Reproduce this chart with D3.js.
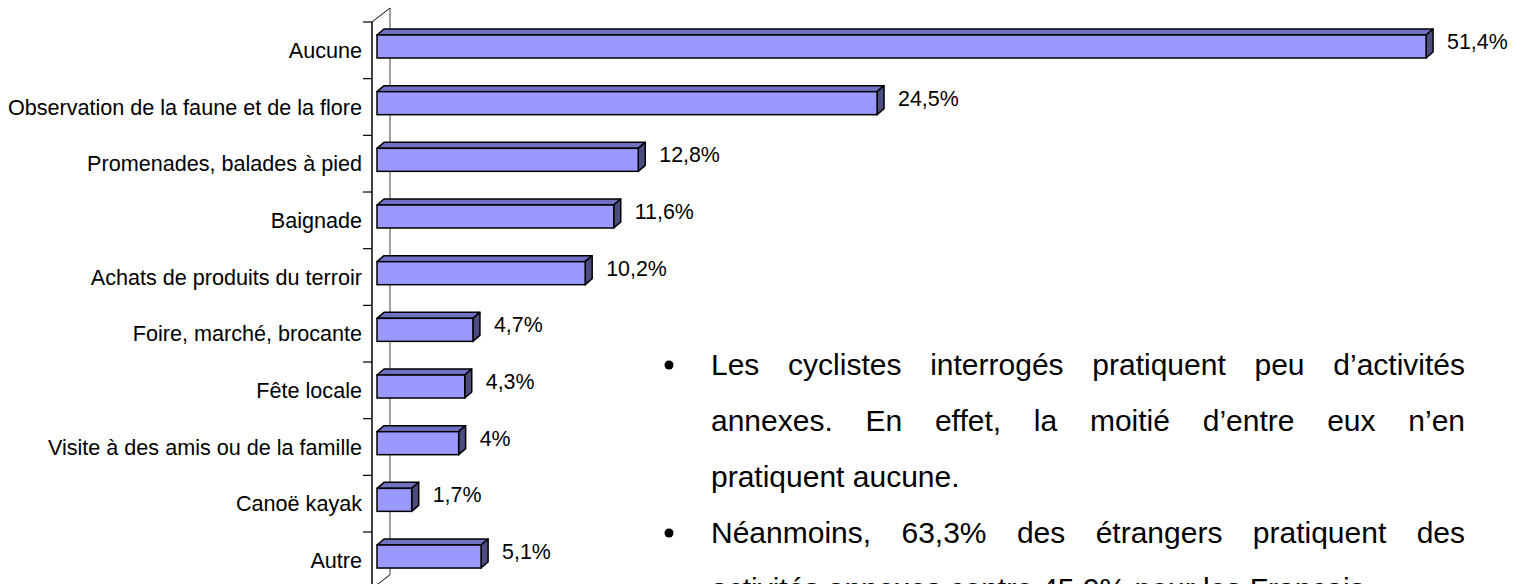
<!DOCTYPE html>
<html>
<head>
<meta charset="utf-8">
<script src="https://cdn.jsdelivr.net/npm/d3@7"></script>
<style>
  html, body { margin: 0; padding: 0; background: #fff; overflow: hidden; }
  svg text { font-family: 'Liberation Sans', Arial, sans-serif; fill: #000; }
</style>
</head>
<body>
<div class="chart-container"></div>
<script>
// Data
const categories = [
    'Aucune',
    'Observation de la faune et de la flore',
    'Promenades, balades à pied',
    'Baignade',
    'Achats de produits du terroir',
    'Foire, marché, brocante',
    'Fête locale',
    'Visite à des amis ou de la famille',
    'Canoë kayak',
    'Autre'
];
const values = [51.4, 24.5, 12.8, 11.6, 10.2, 4.7, 4.3, 4, 1.7, 5.1];
const valueLabels = ['51,4%', '24,5%', '12,8%', '11,6%', '10,2%', '4,7%', '4,3%', '4%', '1,7%', '5,1%'];

// Commentary next to the chart (one entry per printed line)
const paragraphs = [
    ['Les cyclistes interrogés pratiquent peu d’activités',
     'annexes. En effet, la moitié d’entre eux n’en',
     'pratiquent aucune.'],
    ['Néanmoins, 63,3% des étrangers pratiquent des',
     'activités annexes contre 45,9% pour les Français.']
];

const width = 1523;
const height = 584;

const svg = d3.select('.chart-container')
    .append('svg')
    .attr('width', width)
    .attr('height', height);

// Scales
const axisX = 372;
const depth = { x: 18, y: 14 };   // wall depth
const barDepth = { x: 7, y: 6 };  // bar depth

const xScale = d3.scaleLinear()
    .domain([0, 60])
    .range([377, 1601.6]);

const yScale = d3.scaleBand()
    .domain(categories)
    .range([22, 588.7])
    .padding(0);

const barTop = 13;
const barH = 23;

// Walls
const wall = svg.append('g').attr('class', 'walls');
const yTop = yScale.range()[0];
const yBot = yScale.range()[1];

wall.append('line')
    .attr('x1', axisX + depth.x).attr('x2', axisX + depth.x)
    .attr('y1', yTop - depth.y).attr('y2', yBot - depth.y)
    .attr('stroke', '#808080').attr('stroke-width', 1.5);

wall.append('line')
    .attr('x1', axisX).attr('y1', yTop)
    .attr('x2', axisX + depth.x).attr('y2', yTop - depth.y)
    .attr('stroke', '#000').attr('stroke-width', 1);

wall.append('line')
    .attr('x1', axisX).attr('y1', yBot)
    .attr('x2', axisX + depth.x).attr('y2', yBot - depth.y)
    .attr('stroke', '#000').attr('stroke-width', 1);

// Axis with labels
const yAxis = d3.axisLeft(yScale)
    .tickSize(0)
    .tickPadding(10);

const yAxisDraw = svg.append('g')
    .attr('class', 'y axis')
    .attr('transform', `translate(${axisX}, 0)`)
    .call(yAxis);

yAxisDraw.select('.domain').remove();
yAxisDraw.selectAll('text')
    .attr('font-size', 21.6)
    .attr('font-family', "'Liberation Sans', Arial, sans-serif")
    .attr('dy', '0.35em')
    .attr('y', 0);

// front axis line + ticks between categories
svg.append('line')
    .attr('x1', axisX).attr('x2', axisX)
    .attr('y1', yTop).attr('y2', yBot)
    .attr('stroke', '#000').attr('stroke-width', 1.5);

svg.selectAll('.cat-tick')
    .data(categories)
    .enter()
    .append('line')
    .attr('class', 'cat-tick')
    .attr('x1', axisX - 9).attr('x2', axisX)
    .attr('y1', d => yScale(d)).attr('y2', d => yScale(d))
    .attr('stroke', '#000').attr('stroke-width', 1.2);

// Bars
const bars = svg.selectAll('.bar')
    .data(values)
    .enter()
    .append('g')
    .attr('class', 'bar');

const x0 = xScale(0);
const yb = (d, i) => yScale(categories[i]) + barTop;

bars.append('path')
    .attr('d', (d, i) => {
        const x1 = xScale(d), y = yb(d, i);
        return `M${x0},${y}L${x0 + barDepth.x},${y - barDepth.y}L${x1 + barDepth.x},${y - barDepth.y}L${x1},${y}Z`;
    })
    .attr('fill', '#7171C2')
    .attr('stroke', '#000').attr('stroke-width', 1.5).attr('stroke-linejoin', 'round');

bars.append('path')
    .attr('d', (d, i) => {
        const x1 = xScale(d), y = yb(d, i);
        return `M${x1},${y}L${x1 + barDepth.x},${y - barDepth.y}L${x1 + barDepth.x},${y - barDepth.y + barH}L${x1},${y + barH}Z`;
    })
    .attr('fill', '#4C4C80')
    .attr('stroke', '#000').attr('stroke-width', 1.5).attr('stroke-linejoin', 'round');

bars.append('rect')
    .attr('x', x0)
    .attr('y', (d, i) => yb(d, i))
    .attr('width', d => xScale(d) - x0)
    .attr('height', barH)
    .attr('fill', '#9999FF')
    .attr('stroke', '#000').attr('stroke-width', 1.5);

// Value labels
bars.append('text')
    .attr('x', d => xScale(d) + 21)
    .attr('y', (d, i) => yScale(categories[i]) + 27)
    .attr('font-size', 21.4)
    .text((d, i) => valueLabels[i]);

// Commentary text, justified
const text = svg.append('g').attr('class', 'commentary');
const textLeft = 711;
const textRight = 1465;
const lineH = 56;
const fontSize = 30;
let baseline = 375;

function measure(str) {
    const t = text.append('text').attr('font-size', fontSize).text(str);
    const w = t.node().getComputedTextLength();
    t.remove();
    return w;
}

paragraphs.forEach(lines => {
    text.append('circle')
        .attr('cx', 669)
        .attr('cy', baseline - 10)
        .attr('r', 4.5)
        .attr('fill', '#000');

    lines.forEach((line, li) => {
        const last = li === lines.length - 1;
        if (last) {
            text.append('text')
                .attr('x', textLeft)
                .attr('y', baseline)
                .attr('font-size', fontSize)
                .text(line);
        } else {
            const words = line.split(' ');
            const widths = words.map(measure);
            const gap = (textRight - textLeft - d3.sum(widths)) / (words.length - 1);
            let x = textLeft;
            words.forEach((w, wi) => {
                text.append('text')
                    .attr('x', x)
                    .attr('y', baseline)
                    .attr('font-size', fontSize)
                    .text(w);
                x += widths[wi] + gap;
            });
        }
        baseline += lineH;
    });
});
</script>
</body>
</html>
